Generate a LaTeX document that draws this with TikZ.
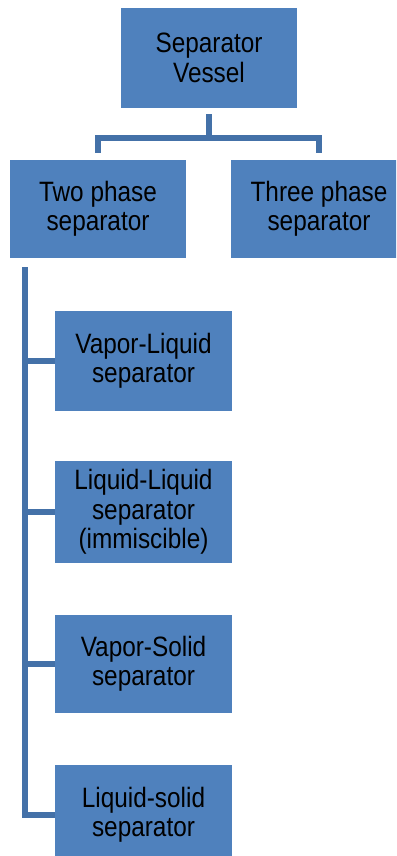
\documentclass[tikz,border=0pt]{standalone}
\usepackage{fontspec}
\setmainfont[FakeStretch=0.87]{Liberation Sans}
\definecolor{boxblue}{HTML}{4F81BD}
\definecolor{connblue}{HTML}{4471A8}
\begin{document}
\begin{tikzpicture}[x=1pt,y=-1pt,
  box/.style={fill=boxblue,draw=none,minimum width=176pt,minimum height=100pt,
    align=center,inner sep=0pt,font=\fontsize{28}{29.5}\selectfont},
  conn/.style={draw=connblue,line width=6pt,line join=miter}]
\useasboundingbox (0,0) rectangle (396,856);
\clip (0,0) rectangle (396,856);
\node[box] (top) at (209,58) {Separator\\Vessel};
\node[box,minimum height=98pt] (two) at (98,209) {Two phase\\separator};
\node[box,minimum height=98pt] (three) at (319,209) {Three phase\\separator};
\node[box,minimum width=177pt] (c1) at (143.5,361) {Vapor-Liquid\\separator};
\node[box,minimum width=177pt,minimum height=102pt] (c2) at (143.5,512) {Liquid-Liquid\\separator\\(immiscible)};
\node[box,minimum width=177pt,minimum height=98pt] (c3) at (143.5,664) {Vapor-Solid\\separator};
\node[box,minimum width=177pt] (c4) at (143.5,815) {Liquid-solid\\separator};
\coordinate (bar) at (0,138);
\coordinate (trunk) at (25,267);
\draw[conn] ([yshift=-6pt]top.south) -- (top.south |- bar) -| ([yshift=7pt]two.north);
\draw[conn] (top.south |- bar) -| ([yshift=7pt]three.north);
\draw[conn] (trunk) -- (trunk |- c4.west) -- (c4.west);
\draw[conn] (trunk |- c1.west) -- (c1.west);
\draw[conn] (trunk |- c2.west) -- (c2.west);
\draw[conn] (trunk |- c3.west) -- (c3.west);
\end{tikzpicture}
\end{document}
